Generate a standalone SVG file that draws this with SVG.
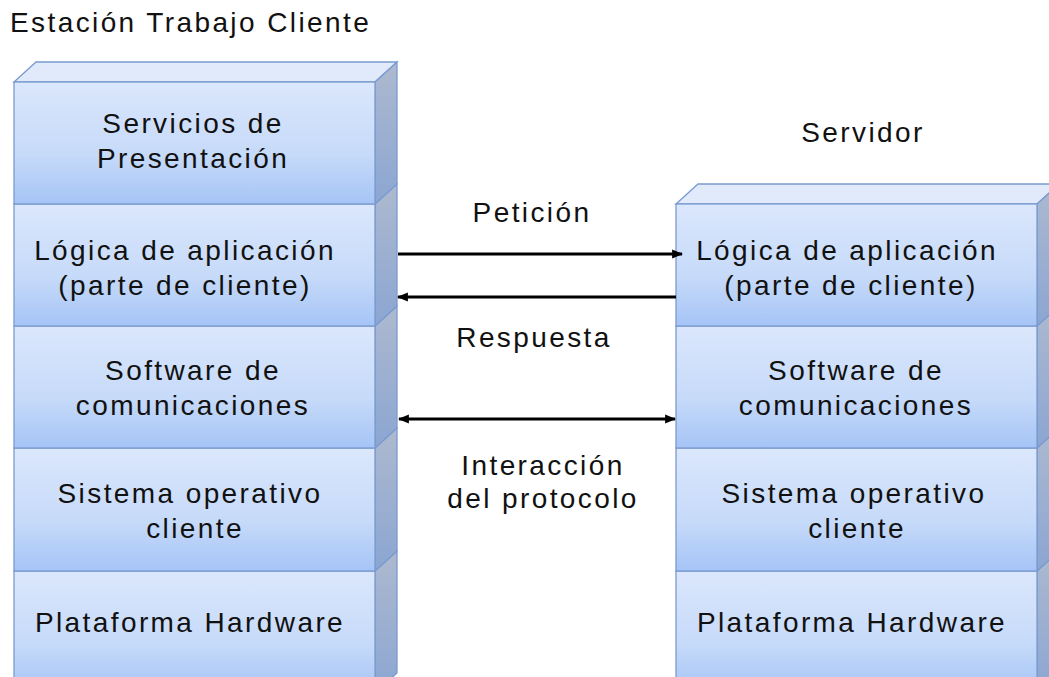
<svg xmlns="http://www.w3.org/2000/svg" width="1049" height="677" viewBox="0 0 1049 677">
<defs>
<linearGradient id="gf" x1="0" y1="0" x2="0" y2="1">
<stop offset="0" stop-color="#dbe7fc"/>
<stop offset="0.6" stop-color="#c6daf9"/>
<stop offset="1" stop-color="#a5c4f6"/>
</linearGradient>
<linearGradient id="gs" x1="0" y1="0" x2="0" y2="1">
<stop offset="0" stop-color="#adb9cf"/>
<stop offset="1" stop-color="#8ba6d2"/>
</linearGradient>
<marker id="ah" viewBox="0 0 10 10" refX="9" refY="5" markerWidth="11" markerHeight="11" markerUnits="userSpaceOnUse" orient="auto-start-reverse">
<path d="M0,1 L10,5 L0,9 z" fill="#000"/>
</marker>
</defs>
<style>
.f{fill:url(#gf);stroke:#7a9bd0;stroke-width:1.3}
.s{fill:url(#gs);stroke:#7a9bd0;stroke-width:1.3}
.t{fill:#e0eafb;stroke:#7a9bd0;stroke-width:1.3}
text{font-family:"Liberation Sans",Arial,sans-serif;font-size:28px;letter-spacing:2.4px;fill:#111;text-anchor:middle}
.c{stroke:#000;stroke-width:3;fill:none}
</style>
<rect width="1049" height="677" fill="#fff"/>
<text x="10" y="32" style="text-anchor:start">Estación Trabajo Cliente</text>
<text x="863" y="142">Servidor</text>

<g id="client-hw"><polygon class="s" points="375,571 397,551 397,673 375,693"/><rect class="f" x="14" y="571" width="361" height="122"/><text x="190" y="632">Plataforma Hardware</text></g>
<g id="client-os"><polygon class="s" points="375,448 397,428 397,551 375,571"/><rect class="f" x="14" y="448" width="361" height="123"/><text x="190" y="503">Sistema operativo</text><text x="195" y="538">cliente</text></g>
<g id="client-com"><polygon class="s" points="375,326 397,306 397,428 375,448"/><rect class="f" x="14" y="326" width="361" height="122"/><text x="193" y="380">Software de</text><text x="193" y="415">comunicaciones</text></g>
<g id="client-app"><polygon class="s" points="375,204 397,184 397,306 375,326"/><rect class="f" x="14" y="204" width="361" height="122"/><text x="185" y="260">Lógica de aplicación</text><text x="185" y="295">(parte de cliente)</text></g>
<g id="client-pres"><polygon class="t" points="14,82 36,62 397,62 375,82"/><polygon class="s" points="375,82 397,62 397,184 375,204"/><rect class="f" x="14" y="82" width="361" height="122"/><text x="193" y="133">Servicios de</text><text x="193" y="168">Presentación</text></g>

<g id="server-hw"><polygon class="s" points="1037,571 1059,551 1059,673 1037,693"/><rect class="f" x="676" y="571" width="361" height="122"/><text x="852" y="632">Plataforma Hardware</text></g>
<g id="server-os"><polygon class="s" points="1037,448 1059,428 1059,551 1037,571"/><rect class="f" x="676" y="448" width="361" height="123"/><text x="854" y="503">Sistema operativo</text><text x="857" y="538">cliente</text></g>
<g id="server-com"><polygon class="s" points="1037,326 1059,306 1059,428 1037,448"/><rect class="f" x="676" y="326" width="361" height="122"/><text x="856" y="380">Software de</text><text x="856" y="415">comunicaciones</text></g>
<g id="server-app"><polygon class="t" points="676,204 698,184 1059,184 1037,204"/><polygon class="s" points="1037,204 1059,184 1059,306 1037,326"/><rect class="f" x="676" y="204" width="361" height="122"/><text x="847" y="260">Lógica de aplicación</text><text x="851" y="295">(parte de cliente)</text></g>

<g id="connectors">
<line class="c" x1="398" y1="254" x2="682" y2="254" marker-end="url(#ah)"/>
<line class="c" x1="676" y1="297" x2="398" y2="297" marker-end="url(#ah)"/>
<line class="c" x1="399" y1="419" x2="675" y2="419" marker-start="url(#ah)" marker-end="url(#ah)"/>
</g>
<text x="532" y="222">Petición</text>
<text x="534" y="347">Respuesta</text>
<text x="543" y="475">Interacción</text>
<text x="543" y="508">del protocolo</text>
</svg>
